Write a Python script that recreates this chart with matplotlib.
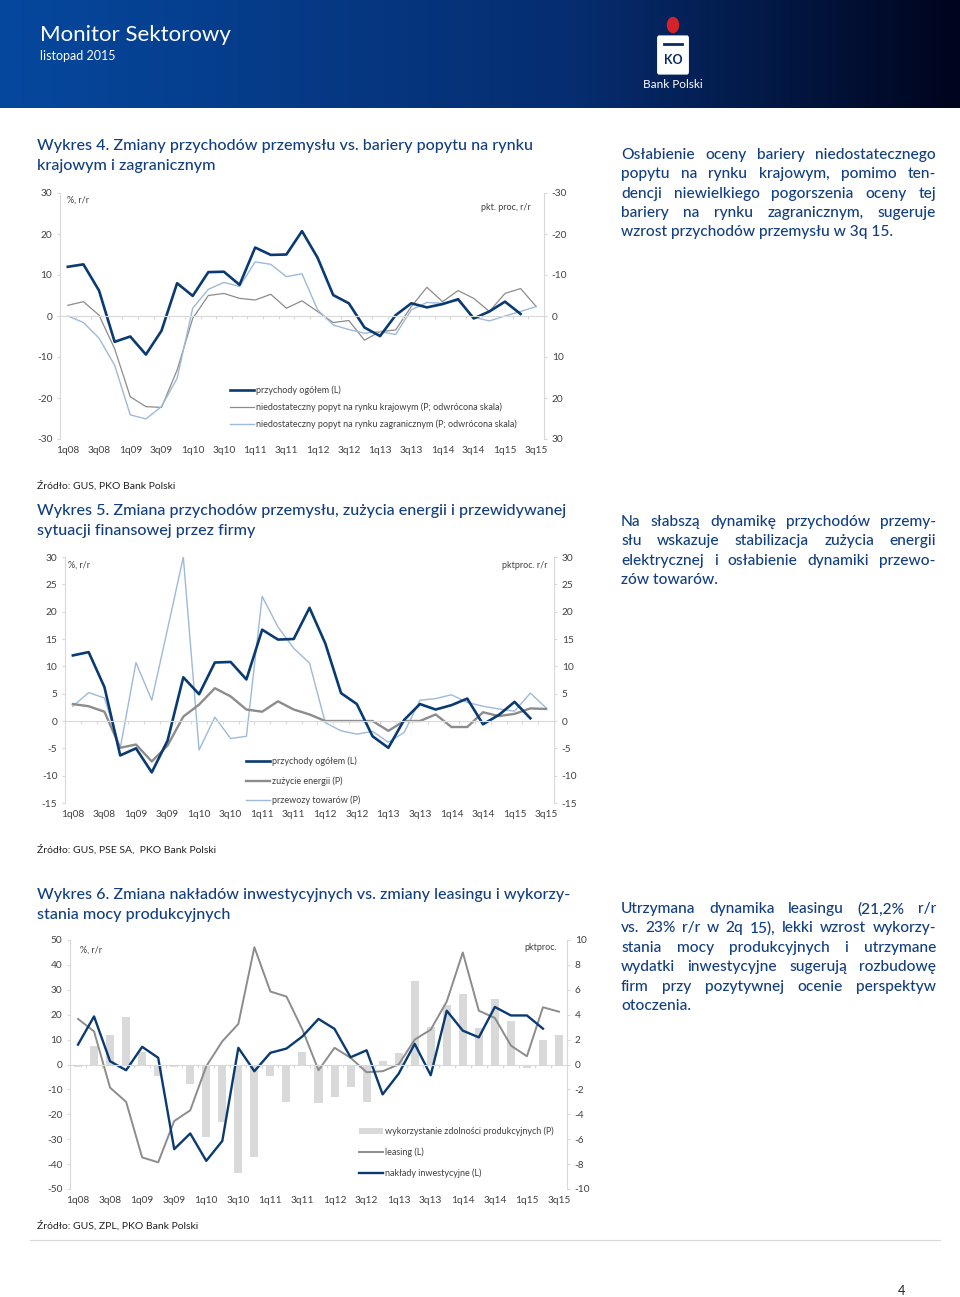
import numpy as np
import matplotlib
matplotlib.use('Agg')
import matplotlib.pyplot as plt
from matplotlib.patches import Rectangle, Circle, FancyBboxPatch
from matplotlib.lines import Line2D

W, H = 960, 1297
plt.rcParams['font.family'] = ['Lato', 'DejaVu Sans']
plt.rcParams['axes.unicode_minus'] = False

# --- dane ---
tick_labels = ['1q08', '3q08', '1q09', '3q09', '1q10', '3q10', '1q11', '3q11',
               '1q12', '3q12', '1q13', '3q13', '1q14', '3q14', '1q15', '3q15']

# przychody ogółem, %, r/r (1q08-2q15)
przychody = [12.0, 12.6, 6.2, -6.3, -5.0, -9.4, -3.6, 8.0, 4.9, 10.7, 10.8, 7.6,
             16.7, 14.9, 15.0, 20.7, 14.2, 5.1, 3.1, -2.8, -4.9, 0.2, 3.1, 2.1,
             2.9, 4.1, -0.6, 1.1, 3.5, 0.5]
# bariera popytu krajowego, pkt. proc. r/r (skala odwrócona)
popyt_kraj = [-2.6, -3.5, -0.2, 8.0, 19.7, 22.1, 22.3, 13.2, 0.6, -5.0, -5.5, -4.3,
              -3.9, -5.3, -1.9, -3.7, -1.1, 1.6, 1.1, 5.9, 3.8, 3.4, -2.3, -7.0,
              -3.5, -6.2, -4.3, -1.1, -5.5, -6.7, -2.3]
# bariera popytu zagranicznego, pkt. proc. r/r (skala odwrócona)
popyt_zagr = [0.0, 1.6, 5.4, 12.0, 24.1, 25.1, 22.1, 15.2, -1.9, -6.5, -8.2, -7.2,
              -13.2, -12.6, -9.6, -10.3, -1.5, 2.2, 3.3, 4.2, 3.8, 4.5, -1.5, -3.3,
              -3.1, -3.7, 0.3, 1.2, 0.0, -1.1, -2.3]

# zużycie energii i przewozy towarów, pkt proc. r/r
energia = [3.1, 2.7, 1.7, -4.9, -4.3, -7.4, -4.5, 0.8, 3.0, 6.0, 4.5, 2.1,
           1.7, 3.6, 2.1, 1.2, 0.0, 0.0, 0.0, 0.0, -1.8, 0.0, 0.0, 1.2,
           -1.1, -1.1, 1.6, 0.9, 1.3, 2.3, 2.2]
przewozy = [2.7, 5.2, 4.2, -5.0, 10.7, 3.8, 16.8, 30.0, -5.3, 0.7, -3.2, -2.8,
            22.8, 17.2, 13.3, 10.6, -0.3, -1.8, -2.4, -1.9, -3.9, -2.1, 3.8, 4.1,
            4.8, 3.4, 2.7, 2.2, 1.8, 5.1, 2.4]

# nakłady inwestycyjne i leasing, %, r/r
naklady = [8.0, 19.3, 1.3, -2.3, 7.1, 2.7, -34.0, -27.7, -38.7, -30.7, 6.7, -2.7,
           4.7, 6.4, 11.3, 18.3, 14.3, 2.9, 5.7, -12.0, -3.7, 8.3, -4.3, 21.6,
           13.6, 10.9, 23.1, 19.7, 19.7, 14.4]
leasing = [18.3, 13.3, -9.3, -15.0, -37.3, -39.3, -22.7, -18.4, -0.7, 9.3, 16.3, 47.1,
           29.3, 27.3, 14.0, -2.3, 6.7, 2.7, -3.1, -2.7, 0.0, 10.0, 14.0, 25.3,
           45.0, 21.6, 18.7, 7.6, 3.3, 23.0, 21.2]
# wykorzystanie zdolności produkcyjnych, pkt proc.
moce = [-0.2, 1.5, 2.4, 3.8, 1.0, -0.9, -0.2, -1.6, -5.8, -4.6, -8.7, -7.4,
        -0.9, -3.0, 1.0, -3.1, -2.6, -1.8, -3.0, 0.3, 0.9, 6.7, 3.0, 4.8,
        5.7, 2.9, 5.3, 3.5, -0.3, 2.0, 2.4]

NAVY = '#0a3a72'
GREY = '#8c8c8c'
LBLUE = '#9dbad8'
AXC = '#d9d9d9'
TXT = '#133f7f'
LAB = '#404040'


def fx(x):
    return x / W


def fy(y):
    return 1 - y / H


def rect(l, t, r, b):
    return [l / W, 1 - b / H, (r - l) / W, (b - t) / H]


fig = plt.figure(figsize=(W / 100, H / 100), dpi=100)

# --- nagłówek ---
hax = fig.add_axes(rect(0, 0, 960, 108))
xs = np.linspace(0, 1, 400)
grad = np.zeros((1, 400, 3))
for c, (a, m, b) in enumerate([(5, 6, 0), (72, 45, 4), (158, 112, 28)]):
    grad[0, :, c] = np.interp(xs, [0, 0.6, 1], [a, m, b]) / 255
hax.imshow(grad, aspect='auto', extent=[0, 1, 0, 1])
hax.axis('off')
fig.text(fx(40), fy(35), 'Monitor Sektorowy', color='white', fontsize=16,
         va='center')
fig.text(fx(40), fy(56), 'listopad 2015', color='white', fontsize=9, va='center')
# logo
fig.add_artist(Circle((fx(673), fy(25)), 5.5 / W, color='#d6232a',
                      transform=fig.transFigure))
fig.add_artist(FancyBboxPatch((fx(659), fy(72)), 28 / W, 34 / H,
                              boxstyle='round,pad=0.002', fc='white', ec='none',
                              transform=fig.transFigure))
fig.add_artist(Line2D([fx(664), fx(682)], [fy(44), fy(44)], color='#0a2a60', lw=2))
fig.text(fx(673), fy(60), 'KO', color='#0a2a60', fontsize=9, fontweight='bold',
         ha='center', va='center')
fig.text(fx(673), fy(85), 'Bank Polski', color='white', fontsize=8.5,
         ha='center', va='center')


def setup(ax, ax2, ylim, y2lim, yticks, y2ticks):
    n = 31
    ax.set_xlim(-0.5, n - 0.5)
    ax.set_ylim(*ylim)
    ax2.set_ylim(*y2lim)
    ax.set_yticks(yticks)
    ax2.set_yticks(y2ticks)
    for s in ['top', 'right']:
        ax.spines[s].set_visible(False)
    for s in ['top', 'left', 'bottom']:
        ax2.spines[s].set_visible(False)
    ax.spines['left'].set_color(AXC)
    ax2.spines['right'].set_color(AXC)
    ax.spines['bottom'].set_position(('data', 0))
    ax.spines['bottom'].set_color(AXC)
    ax.set_xticks(np.arange(-0.5, n, 1))
    ax.tick_params(axis='x', length=2.5, color=AXC, labelbottom=False)
    ax.tick_params(axis='y', length=2.5, color=AXC, labelsize=7.3, labelcolor=LAB, pad=3)
    ax2.tick_params(axis='y', length=2.5, color=AXC, labelsize=7.3, labelcolor=LAB, pad=3)
    sec = ax.secondary_xaxis(0)
    sec.set_xticks(np.arange(0, n, 2))
    sec.set_xticklabels(tick_labels)
    sec.tick_params(length=0, labelsize=7.3, labelcolor=LAB, pad=5)
    sec.spines['bottom'].set_visible(False)
    ax.patch.set_visible(False)


def legend_row(x, y, label, kind, color, lw=1.0):
    if kind == 'bar':
        fig.add_artist(Rectangle((fx(x), fy(y + 3)), 24 / W, 6 / H, fc=color,
                                 ec='none', transform=fig.transFigure))
    else:
        fig.add_artist(Line2D([fx(x), fx(x + 24)], [fy(y), fy(y)], color=color, lw=lw))
    fig.text(fx(x + 26), fy(y), label, fontsize=6.5, color=LAB, va='center')


def title(y, lines):
    for k, line in enumerate(lines):
        fig.text(fx(37), fy(y + k * 20), line, fontsize=11.6, color=TXT, va='center',
                 fontweight='medium')


def justify(lines, y0, dy, x0=621, x1=936, size=11.2):
    r = fig.canvas.get_renderer()
    kw = dict(fontsize=size, color=TXT, va='center', fontweight='medium')
    for k, line in enumerate(lines):
        y = fy(y0 + k * dy)
        words = line.split()
        if k == len(lines) - 1:
            fig.text(fx(x0), y, line, **kw)
            continue
        ts = [fig.text(0, y, w, **kw) for w in words]
        widths = [t.get_window_extent(r).width for t in ts]
        gap = (x1 - x0 - sum(widths)) / (len(words) - 1)
        x = x0
        for t, w in zip(ts, widths):
            t.set_x(fx(x))
            x += w + gap


# --- Wykres 4 ---
title(146, ['Wykres 4. Zmiany przychodów przemysłu vs. bariery popytu na rynku',
            'krajowym i zagranicznym'])
ax = fig.add_axes(rect(60, 193, 544, 439))
ax2 = ax.twinx()
setup(ax, ax2, (-30, 30), (30, -30), np.arange(-30, 31, 10), np.arange(-30, 31, 10))
ax2.plot(np.arange(len(popyt_kraj)), popyt_kraj, color=GREY, lw=0.9)
ax2.plot(np.arange(len(popyt_zagr)), popyt_zagr, color=LBLUE, lw=1.0)
ax.set_zorder(ax2.get_zorder() + 1)
ax.plot(np.arange(len(przychody)), przychody, color=NAVY, lw=1.9)
fig.text(fx(67), fy(200), '%, r/r', fontsize=6.5, color=LAB, va='center')
fig.text(fx(531), fy(208), 'pkt. proc, r/r', fontsize=6.5, color=LAB, va='center', ha='right')
legend_row(230, 390, 'przychody ogółem (L)', 'line', NAVY, 1.9)
legend_row(230, 407, 'niedostateczny popyt na rynku krajowym (P; odwrócona skala)', 'line', GREY, 0.9)
legend_row(230, 424, 'niedostateczny popyt na rynku zagranicznym (P; odwrócona skala)', 'line', LBLUE, 1.0)
fig.text(fx(37), fy(486), 'Źródło: GUS, PKO Bank Polski', fontsize=7.5, color='#222222', va='center')

justify(['Osłabienie oceny bariery niedostatecznego',
         'popytu na rynku krajowym, pomimo ten-',
         'dencji niewielkiego pogorszenia oceny tej',
         'bariery na rynku zagranicznym, sugeruje',
         'wzrost przychodów przemysłu w 3q 15.'], 155, 19.3)

# --- Wykres 5 ---
title(511, ['Wykres 5. Zmiana przychodów przemysłu, zużycia energii i przewidywanej',
            'sytuacji finansowej przez firmy'])
ax = fig.add_axes(rect(65, 557, 554, 803))
ax2 = ax.twinx()
setup(ax, ax2, (-15, 30), (-15, 30), np.arange(-15, 31, 5), np.arange(-15, 31, 5))
ax2.plot(np.arange(len(przewozy)), przewozy, color=LBLUE, lw=1.0)
ax2.plot(np.arange(len(energia)), energia, color=GREY, lw=1.7)
ax.set_zorder(ax2.get_zorder() + 1)
ax.plot(np.arange(len(przychody)), przychody, color=NAVY, lw=1.9)
fig.text(fx(68), fy(565), '%, r/r', fontsize=6.5, color=LAB, va='center')
fig.text(fx(548), fy(565), 'pktproc. r/r', fontsize=6.5, color=LAB, va='center', ha='right')
legend_row(246, 761, 'przychody ogółem (L)', 'line', NAVY, 1.9)
legend_row(246, 781, 'zużycie energii (P)', 'line', GREY, 1.7)
legend_row(246, 800, 'przewozy towarów (P)', 'line', LBLUE, 1.0)
fig.text(fx(37), fy(850), 'Źródło: GUS, PSE SA,  PKO Bank Polski', fontsize=7.5, color='#222222', va='center')

justify(['Na słabszą dynamikę przychodów przemy-',
         'słu wskazuje stabilizacja zużycia energii',
         'elektrycznej i osłabienie dynamiki przewo-',
         'zów towarów.'], 522, 19.3)

# --- Wykres 6 ---
title(895, ['Wykres 6. Zmiana nakładów inwestycyjnych vs. zmiany leasingu i wykorzy-',
            'stania mocy produkcyjnych'])
ax = fig.add_axes(rect(70, 940, 567, 1189))
ax2 = ax.twinx()
setup(ax, ax2, (-50, 50), (-10, 10), np.arange(-50, 51, 10), np.arange(-10, 11, 2))
ax2.bar(np.arange(len(moce)), moce, width=0.5, color=AXC)
ax.set_zorder(ax2.get_zorder() + 1)
ax.plot(np.arange(len(leasing)), leasing, color=GREY, lw=1.4)
ax.plot(np.arange(len(naklady)), naklady, color=NAVY, lw=1.7)
fig.text(fx(80), fy(950), '%, r/r', fontsize=6.5, color=LAB, va='center')
fig.text(fx(557), fy(948), 'pktproc.', fontsize=6.5, color=LAB, va='center', ha='right')
legend_row(359, 1131, 'wykorzystanie zdolności produkcyjnych (P)', 'bar', AXC)
legend_row(359, 1152, 'leasing (L)', 'line', GREY, 1.4)
legend_row(359, 1173, 'nakłady inwestycyjne (L)', 'line', NAVY, 1.7)
fig.text(fx(37), fy(1226), 'Źródło: GUS, ZPL, PKO Bank Polski', fontsize=7.5, color='#222222', va='center')

justify(['Utrzymana dynamika leasingu (21,2% r/r',
         'vs. 23% r/r w 2q 15), lekki wzrost wykorzy-',
         'stania mocy produkcyjnych i utrzymane',
         'wydatki inwestycyjne sugerują rozbudowę',
         'firm przy pozytywnej ocenie perspektyw',
         'otoczenia.'], 909, 19.4)

# stopka
fig.add_artist(Line2D([fx(30), fx(940)], [fy(1240), fy(1240)], color=AXC, lw=0.8))
fig.text(fx(901), fy(1291), '4', fontsize=9, color='#222222', ha='center', va='center')

fig.savefig('out.png', dpi=100)
